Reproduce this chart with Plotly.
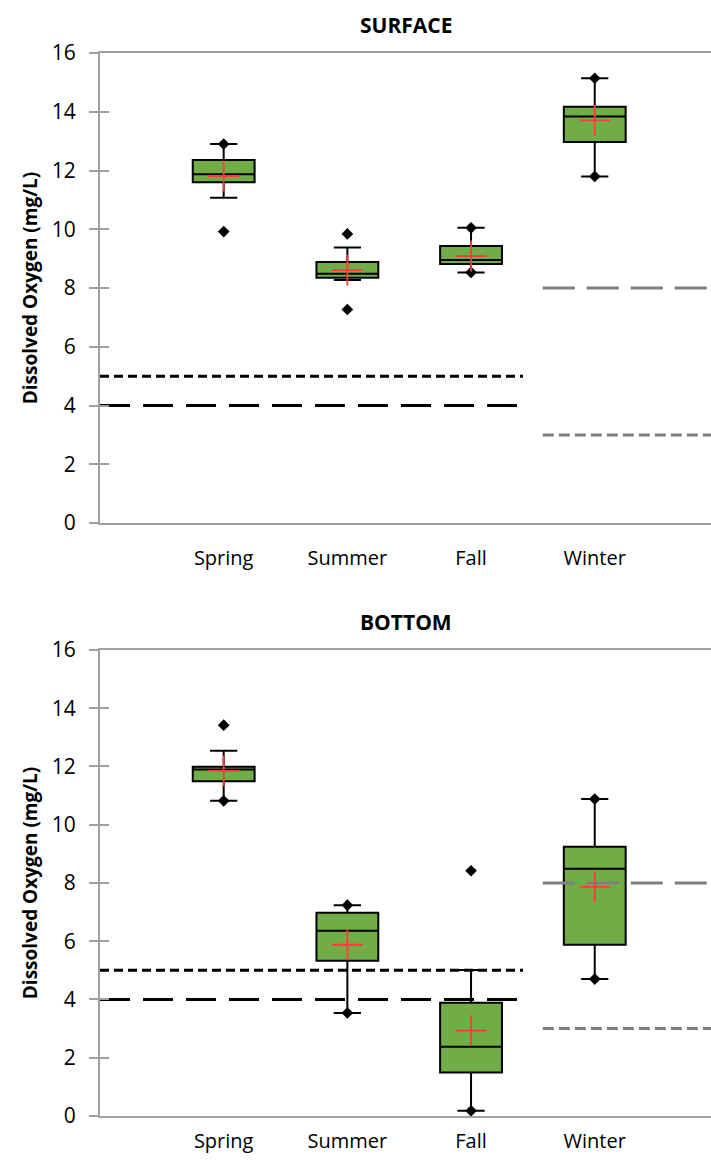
import plotly.graph_objects as go
from plotly.subplots import make_subplots

seasons = ["Spring", "Summer", "Fall", "Winter"]
season_pos = [1, 2, 3, 4]

# SURFACE
surf_q1 = [11.60, 8.35, 8.82, 12.97]
surf_med = [11.87, 8.49, 8.95, 13.84]
surf_q3 = [12.36, 8.89, 9.43, 14.17]
surf_low = [11.07, 8.27, 8.53, 11.80]
surf_high = [12.90, 9.38, 10.05, 15.14]
surf_mean = [11.81, 8.61, 9.09, 13.71]
surf_min = [9.92, 7.27, 8.53, 11.80]
surf_max = [12.90, 9.84, 10.05, 15.14]

# BOTTOM
bot_q1 = [11.49, 5.33, 1.49, 5.88]
bot_med = [11.90, 6.36, 2.38, 8.49]
bot_q3 = [11.99, 6.98, 3.89, 9.24]
bot_low = [10.82, 3.54, 0.18, 4.70]
bot_high = [12.54, 7.24, 5.01, 10.88]
bot_mean = [11.85, 5.88, 2.93, 7.87]
bot_min = [10.82, 3.54, 0.18, 4.70]
bot_max = [13.42, 7.24, 8.42, 10.88]

# criteria lines
warm_x = [0, 3.42]
cold_x = [3.58, 5.2]
warm_dotted = 5
warm_dashed = 4
cold_dashed = 8
cold_dotted = 3

yticks = [0, 2, 4, 6, 8, 10, 12, 14, 16]

FONT = "Open Sans"
GREEN = "#70AD47"
AXIS = "#A0A0A0"

fig = make_subplots(rows=2, cols=1)

panels = [
    (1, surf_q1, surf_med, surf_q3, surf_low, surf_high, surf_mean, surf_min, surf_max),
    (2, bot_q1, bot_med, bot_q3, bot_low, bot_high, bot_mean, bot_min, bot_max),
]

for row, q1, med, q3, lo, hi, mean, mn, mx in panels:
    fig.add_trace(go.Scatter(x=warm_x, y=[warm_dotted] * 2, mode="lines",
                             line=dict(color="black", width=3, dash="9px,5px"),
                             hoverinfo="skip"), row=row, col=1)
    fig.add_trace(go.Scatter(x=warm_x, y=[warm_dashed] * 2, mode="lines",
                             line=dict(color="black", width=3, dash="30px,13px"),
                             hoverinfo="skip"), row=row, col=1)
    fig.add_trace(go.Scatter(x=cold_x, y=[cold_dashed] * 2, mode="lines",
                             line=dict(color="#808080", width=3, dash="32px,12px"),
                             hoverinfo="skip"), row=row, col=1)
    fig.add_trace(go.Scatter(x=cold_x, y=[cold_dotted] * 2, mode="lines",
                             line=dict(color="#808080", width=3, dash="11px,5px"),
                             hoverinfo="skip"), row=row, col=1)
    fig.add_trace(go.Box(x=season_pos, q1=q1, median=med, q3=q3,
                         lowerfence=lo, upperfence=hi,
                         fillcolor=GREEN, line=dict(color="black", width=2),
                         width=0.5, whiskerwidth=0.44, boxpoints=False,
                         hoverinfo="skip"), row=row, col=1)
    fig.add_trace(go.Scatter(x=season_pos + season_pos, y=mn + mx, mode="markers",
                             marker=dict(symbol="diamond", size=9, color="black"),
                             hoverinfo="skip"), row=row, col=1)
    fig.add_trace(go.Scatter(x=season_pos, y=mean, mode="markers",
                             marker=dict(symbol="cross-thin", size=22,
                                         line=dict(color="#FF3B3B", width=1.8)),
                             hoverinfo="skip"), row=row, col=1)

for ax, standoff in [("xaxis", 16), ("xaxis2", 6)]:
    fig.layout[ax].update(range=[0, 4.94], tickvals=season_pos, ticktext=seasons,
                          showline=True, linecolor=AXIS, linewidth=2, mirror=True,
                          ticks="", showgrid=False, zeroline=False,
                          ticklabelstandoff=standoff, automargin=False,
                          tickfont=dict(family=FONT, size=20, color="black"))
for ax in ["yaxis", "yaxis2"]:
    fig.layout[ax].update(range=[0, 16], tickvals=yticks,
                          showline=True, linecolor=AXIS, linewidth=2,
                          ticks="outside", ticklen=9, tickcolor=AXIS, tickwidth=1.5,
                          showgrid=False, zeroline=False, automargin=False,
                          ticklabelstandoff=9,
                          tickfont=dict(family=FONT, size=21, color="black"),
                          title=dict(text="Dissolved Oxygen (mg/L)", standoff=9,
                                     font=dict(family=FONT, size=19, color="black",
                                               weight="bold")))

fig.layout.yaxis.domain = [0.5578, 1.0]
fig.layout.yaxis2.domain = [0.0, 0.4384]

# overlay axes that draw the inner half of the crossing tick marks
fig.update_layout(
    yaxis3=dict(overlaying="y", anchor="x", side="left", range=[0, 16],
                tickvals=yticks, ticks="inside", ticklen=9, tickcolor=AXIS,
                tickwidth=1.5, showticklabels=False, showgrid=False,
                zeroline=False, showline=False),
    yaxis4=dict(overlaying="y2", anchor="x2", side="left", range=[0, 16],
                tickvals=yticks, ticks="inside", ticklen=9, tickcolor=AXIS,
                tickwidth=1.5, showticklabels=False, showgrid=False,
                zeroline=False, showline=False),
)
fig.add_trace(go.Scatter(x=[None], y=[None], xaxis="x", yaxis="y3",
                         mode="markers", hoverinfo="skip"))
fig.add_trace(go.Scatter(x=[None], y=[None], xaxis="x2", yaxis="y4",
                         mode="markers", hoverinfo="skip"))

fig.add_annotation(text="<b>SURFACE</b>", xref="paper", yref="paper", x=0.5, y=1.0,
                   yshift=28, yanchor="middle", showarrow=False,
                   font=dict(family=FONT, size=21, color="black"))
fig.add_annotation(text="<b>BOTTOM</b>", xref="paper", yref="paper", x=0.5, y=0.4384,
                   yshift=28, yanchor="middle", showarrow=False,
                   font=dict(family=FONT, size=21, color="black"))

fig.update_layout(width=711, height=1160, showlegend=False,
                  margin=dict(l=100, r=0, t=53, b=44),
                  plot_bgcolor="white", paper_bgcolor="white")

fig.write_html("out.html")
